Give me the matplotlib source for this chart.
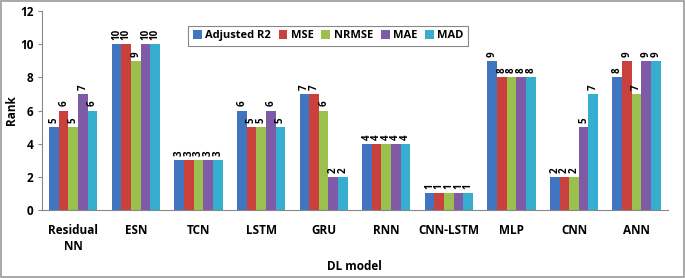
import numpy as np
import matplotlib
matplotlib.use("Agg")
import matplotlib.pyplot as plt
from matplotlib.patches import Rectangle

models = ["Residual\nNN", "ESN", "TCN", "LSTM", "GRU", "RNN", "CNN-LSTM", "MLP", "CNN", "ANN"]
metrics = ["Adjusted R2", "MSE", "NRMSE", "MAE", "MAD"]
adj_r2 = [5, 10, 3, 6, 7, 4, 1, 9, 2, 8]
mse = [6, 10, 3, 5, 7, 4, 1, 8, 2, 9]
nrmse = [5, 9, 3, 5, 6, 4, 1, 8, 2, 7]
mae = [7, 10, 3, 6, 2, 4, 1, 8, 5, 9]
mad = [6, 10, 3, 5, 2, 4, 1, 8, 7, 9]
colors = ["#4275C0", "#C9403D", "#9BC04E", "#7F5AA6", "#35AECF"]

plt.rcParams['font.family'] = ['Open Sans', 'DejaVu Sans']

fig = plt.figure(figsize=(6.85, 2.78), dpi=100)
ax = fig.add_axes([0.0613, 0.2446, 0.9137, 0.7154])

x = np.arange(len(models))
w = 0.154
series = [adj_r2, mse, nrmse, mae, mad]
for i, (vals, c, name) in enumerate(zip(series, colors, metrics)):
    pos = x + (i - 2) * w
    ax.bar(pos, vals, width=w, color=c, label=name, edgecolor='none')
    for p, v in zip(pos, vals):
        ax.text(p, v + 0.25, str(v), rotation=90, ha='center', va='bottom',
                fontsize=7, fontweight='bold', color='black')

ax.set_xlim(-0.5, len(models) - 0.5)
ax.set_ylim(0, 12)
ax.set_yticks(range(0, 13, 2))
ax.set_xticks(x)
ax.set_xticklabels(models, fontsize=8.5, fontweight='bold', linespacing=1.3)
for t in ax.get_yticklabels():
    t.set_fontweight('bold')
    t.set_fontsize(8.5)
ax.tick_params(axis='x', length=0, pad=10)
ax.tick_params(axis='y', length=3, color='#888888', pad=3)
for s in ['top', 'right']:
    ax.spines[s].set_visible(False)
for s in ['left', 'bottom']:
    ax.spines[s].set_color('#888888')
ax.set_ylabel("Rank", fontsize=8.5, fontweight='bold')
ax.yaxis.set_label_coords(-0.038, 0.5)
ax.set_xlabel("DL model", fontsize=8.5, fontweight='bold', labelpad=5)

leg = ax.legend(loc='upper left', bbox_to_anchor=(0.225, 0.955), ncol=5,
                prop={'weight': 'bold', 'size': 8},
                handlelength=0.8, handleheight=0.8, handletextpad=0.3,
                columnspacing=0.7, borderpad=0.4, fancybox=False,
                edgecolor='#888888', framealpha=1)
leg.get_frame().set_linewidth(0.8)

fig.patches.append(Rectangle((0.002, 0.004), 0.996, 0.992, transform=fig.transFigure,
                             fill=False, edgecolor='#999999', linewidth=1.2))

fig.savefig("out.png", dpi=100)
